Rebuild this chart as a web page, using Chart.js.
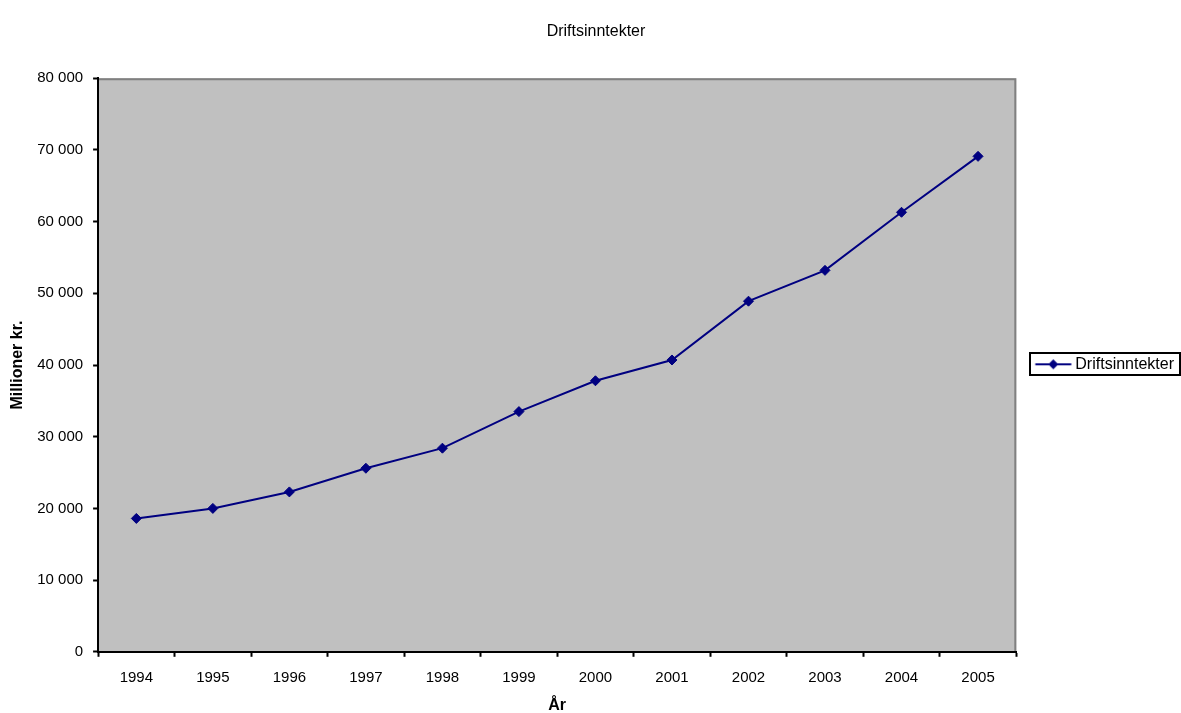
<!DOCTYPE html>
<html>
<head>
<meta charset="utf-8">
<script src="https://cdn.jsdelivr.net/npm/chart.js@4/dist/chart.umd.min.js"></script>
<style>
  html, body { margin: 0; padding: 0; background: #fff; }
  #wrap { width: 1181px; height: 713px; }
</style>
</head>
<body>
<div id="wrap"><canvas id="driftChart"></canvas></div>
<script>
var years = ['1994', '1995', '1996', '1997', '1998', '1999', '2000', '2001', '2002', '2003', '2004', '2005'];
var driftsinntekter = [18600, 20000, 22300, 25600, 28400, 33500, 37800, 40700, 48900, 53200, 61300, 69100];
var seriesName = 'Driftsinntekter';

var navy = '#000080';
var fontFamily = '"Liberation Sans", Arial, sans-serif';
var fontSize = 16;
var tickFontSize = 15;

// legend symbol: line with a diamond in the middle
var legendSymbol = document.createElement('canvas');
legendSymbol.width = 60;
legendSymbol.height = 12;
(function() {
    var c = legendSymbol.getContext('2d');
    c.strokeStyle = navy;
    c.lineWidth = 2;
    c.beginPath();
    c.moveTo(18.5, 6);
    c.lineTo(54.5, 6);
    c.stroke();
    c.fillStyle = navy;
    c.beginPath();
    c.moveTo(36.5, 1);
    c.lineTo(41.5, 6);
    c.lineTo(36.5, 11);
    c.lineTo(31.5, 6);
    c.closePath();
    c.fill();
})();

var plotBackground = {
    id: 'plotBackground',
    beforeDraw: function(chart) {
        var a = chart.chartArea;
        var ctx = chart.ctx;
        ctx.save();
        ctx.fillStyle = '#c0c0c0';
        ctx.fillRect(a.left, a.top, a.right - a.left, a.bottom - a.top);
        ctx.strokeStyle = '#808080';
        ctx.lineWidth = 2;
        ctx.beginPath();
        ctx.moveTo(a.left, a.top + 1);
        ctx.lineTo(a.right - 1, a.top + 1);
        ctx.lineTo(a.right - 1, a.bottom);
        ctx.stroke();
        ctx.restore();
    },
    afterDraw: function(chart) {
        var boxes = chart.legend && chart.legend.legendHitBoxes;
        if (!boxes || !boxes.length) return;
        var b = boxes[0];
        var ctx = chart.ctx;
        ctx.save();
        ctx.strokeStyle = '#000';
        ctx.lineWidth = 2;
        ctx.strokeRect(Math.round(b.left) + 4, Math.round(b.top) - 3, Math.round(b.width) + 2, Math.round(b.height) + 6);
        ctx.restore();
    }
};

var ctx = document.getElementById('driftChart').getContext('2d');
var chart = new Chart(ctx, {
    type: 'line',
    data: {
        labels: years,
        datasets: [{
            label: seriesName,
            data: driftsinntekter,
            borderColor: navy,
            backgroundColor: navy,
            borderWidth: 2,
            pointStyle: 'rectRot',
            pointRadius: 5,
            pointBorderWidth: 1,
            tension: 0
        }]
    },
    options: {
        responsive: true,
        maintainAspectRatio: false,
        animation: false,
        layout: { padding: { top: 0, right: -3, bottom: 0, left: 8 } },
        plugins: {
            title: {
                display: true,
                text: 'Driftsinntekter',
                color: '#000',
                font: { family: fontFamily, size: fontSize, weight: 'normal' },
                padding: { top: 22, bottom: 37 }
            },
            legend: {
                display: true,
                position: 'right',
                title: {
                    display: true,
                    text: ' ',
                    font: { family: fontFamily, size: 13 },
                    padding: 0
                },
                labels: {
                    usePointStyle: true,
                    pointStyle: legendSymbol,
                    pointStyleWidth: 41,
                    color: '#000',
                    font: { family: fontFamily, size: fontSize },
                    padding: 10
                }
            },
            tooltip: { enabled: false }
        },
        scales: {
            x: {
                offset: true,
                grid: {
                    offset: true,
                    drawOnChartArea: false,
                    drawTicks: true,
                    tickLength: 5,
                    tickWidth: 2,
                    tickColor: '#000',
                    color: '#000'
                },
                border: { color: '#000', width: 2 },
                ticks: {
                    color: '#000',
                    font: { family: fontFamily, size: tickFontSize },
                    padding: 12,
                    maxRotation: 0
                },
                title: {
                    display: true,
                    text: 'År',
                    color: '#000',
                    font: { family: fontFamily, size: fontSize, weight: 'bold' },
                    padding: { top: -3, bottom: -2 }
                }
            },
            y: {
                min: 0,
                max: 80000,
                grid: {
                    drawOnChartArea: false,
                    drawTicks: true,
                    tickLength: 5,
                    tickWidth: 2,
                    tickColor: '#000',
                    color: '#000'
                },
                border: { color: '#000', width: 2 },
                ticks: {
                    stepSize: 10000,
                    color: '#000',
                    font: { family: fontFamily, size: tickFontSize },
                    padding: 10,
                    callback: function(v) {
                        return String(v).replace(/\B(?=(\d{3})+(?!\d))/g, ' ');
                    }
                },
                title: {
                    display: true,
                    text: 'Millioner kr.',
                    color: '#000',
                    font: { family: fontFamily, size: fontSize, weight: 'bold' },
                    padding: { top: 0, bottom: 0 }
                }
            }
        }
    },
    plugins: [plotBackground]
});
</script>
</body>
</html>
